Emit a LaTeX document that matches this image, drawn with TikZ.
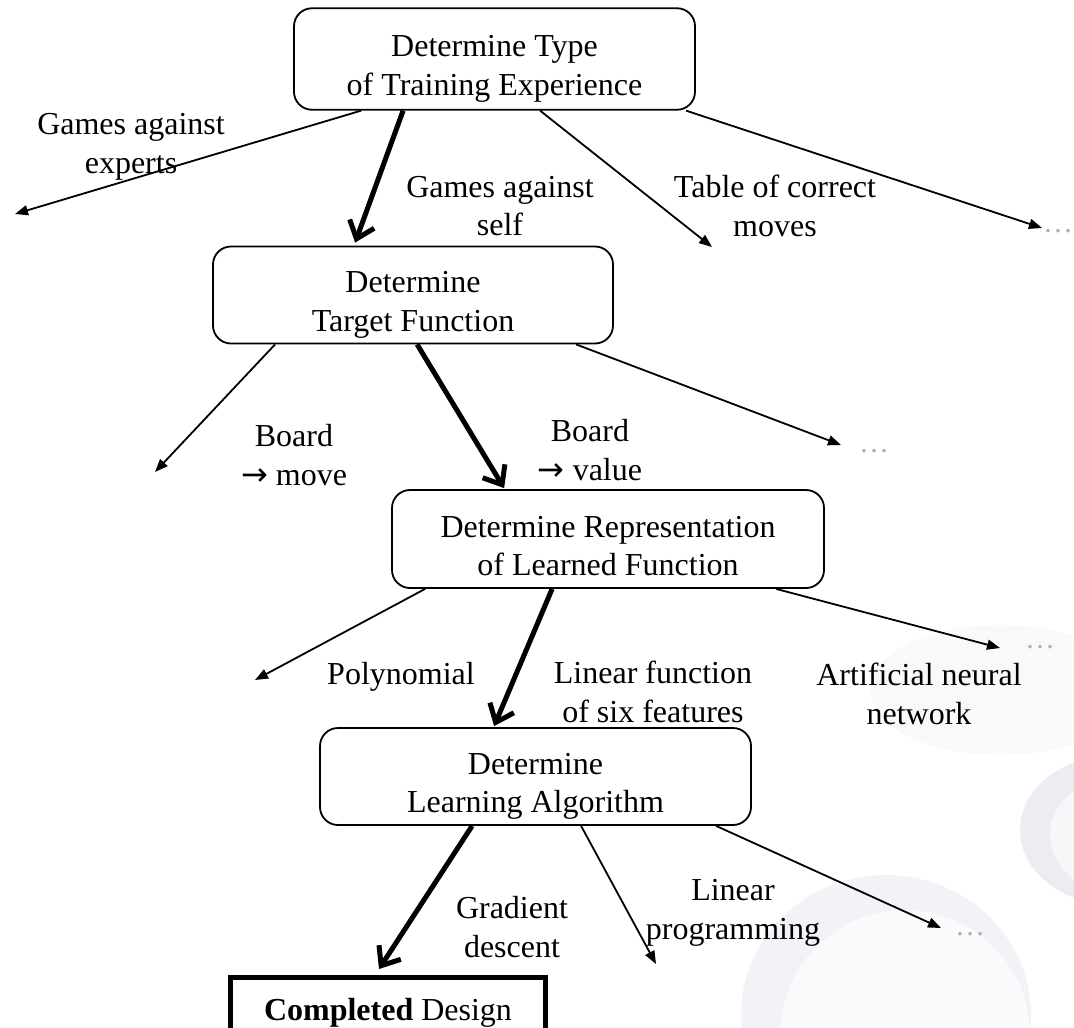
\documentclass[tikz,border=0pt]{standalone}
\usepackage{fontspec}
\setmainfont{Liberation Serif}
\newfontfamily\symfont{DejaVu Sans}
\usetikzlibrary{arrows.meta}
\definecolor{blobA}{RGB}{242,242,247}
\definecolor{blobB}{RGB}{250,250,252}
\definecolor{blobC}{RGB}{236,236,243}
\definecolor{blobD}{RGB}{247,247,250}
\definecolor{blobE}{RGB}{249,249,251}
\definecolor{dotgray}{RGB}{175,175,175}
\newcommand{\rarr}{{\symfont\fontsize{32}{32}\selectfont →}}
\begin{document}
\begin{tikzpicture}[x=1pt,y=-1pt,
  box/.style={draw,line width=1.8pt,rounded corners=18pt,inner sep=0pt},
  lbl/.style={align=center,font=\fontsize{32}{38.5}\selectfont,inner sep=0pt},
  tarrow/.style={line width=1.8pt,-{Triangle[length=13pt,width=10pt]}},
  barrow/.style={line width=5pt,-{Straight Barb[length=16pt,width=26pt]}},
  dotsn/.style={font=\fontsize{30}{30}\selectfont,text=dotgray,inner sep=0pt},
]
\useasboundingbox (0,0) rectangle (1074,1028);
\fill[white] (0,0) rectangle (1074,1028);
% faint slide background
\begin{scope}
\clip (0,0) rectangle (1074,1028);
\fill[blobE] (1000,690) ellipse (130 and 65);
\fill[blobA] (886,1015) ellipse (145 and 140);
\fill[blobB] (905,1035) ellipse (125 and 125);
\fill[blobC] (1115,830) ellipse (95 and 75);
\fill[blobD] (1130,835) ellipse (80 and 62);
\end{scope}

% boxes
\node[box,minimum width=401pt,minimum height=101.5pt] (b1) at (494.5,59) {};
\node[box,minimum width=400pt,minimum height=97pt] (b2) at (413,295) {};
\node[box,minimum width=432pt,minimum height=98pt] (b3) at (608,539) {};
\node[box,minimum width=431pt,minimum height=97pt] (b4) at (535.5,776.5) {};
\node[draw,line width=5pt,minimum width=315pt,minimum height=70pt,inner sep=0pt,
  font=\fontsize{32}{38.5}\selectfont] (b5) at (388,1012.5) {\textbf{Completed} Design};

% box texts
\node[lbl] (t1) at ([yshift=-10pt]b1.center) {Determine Type\\of Training Experience};
\node[lbl] (t2) at ([yshift=-10pt]b2.center) {Determine\\Target Function};
\node[lbl] (t3) at ([yshift=-7pt]b3.center) {Determine Representation\\of Learned Function};
\node[lbl] (t4) at ([yshift=-10pt]b4.center) {Determine\\Learning Algorithm};

% labels
\node[lbl] (l1) at (131,147) {Games against\\experts};
\node[lbl] (l2) at (500,206) {Games against\\self};
\node[lbl] (l3) at (775,206) {Table of correct\\moves};
\node[lbl] (l4) at (294,455) {Board\\\rarr\ move};
\node[lbl] (l5) at (590,450) {Board\\\rarr\ value};
\node[lbl] (l6) at (401,677) {Polynomial};
\node[lbl] (l7) at (653,692) {Linear function\\of six features};
\node[lbl] (l8) at (919,694) {Artificial neural\\network};
\node[lbl] (l9) at (512,927) {Gradient\\descent};
\node[lbl] (l10) at (733,913) {Linear\\programming};

% ellipses
\node[dotsn] (d1) at (1058,231) {\dots};
\node[dotsn] (d2) at (874,451) {\dots};
\node[dotsn] (d3) at (1040,647) {\dots};
\node[dotsn] (d4) at (970,934) {\dots};

% free arrow ends
\coordinate (e11) at (15,214);
\coordinate (e13) at (712,247);
\coordinate (e14) at (1042,228);
\coordinate (e21) at (155,472);
\coordinate (e23) at (841,445);
\coordinate (e31) at (255,680);
\coordinate (e33) at (1000,648);
\coordinate (e42) at (656,964);
\coordinate (e43) at (941,928);

% connectors from box 1
\draw[tarrow] ([xshift=68pt]b1.south west) -- (e11);
\draw[barrow] ([xshift=110pt]b1.south west) -- ([xshift=143pt,yshift=3pt]b2.north west);
\draw[tarrow] ([xshift=247pt]b1.south west) -- (e13);
\draw[tarrow] ([xshift=393pt]b1.south west) -- (e14);
% from box 2
\draw[tarrow] ([xshift=63pt]b2.south west) -- (e21);
\draw[barrow] ([xshift=205pt]b2.south west) -- ([xshift=113pt,yshift=1pt]b3.north west);
\draw[tarrow] ([xshift=364pt]b2.south west) -- (e23);
% from box 3
\draw[tarrow] ([xshift=34pt]b3.south west) -- (e31);
\draw[barrow] ([xshift=161pt]b3.south west) -- ([xshift=175pt,yshift=1pt]b4.north west);
\draw[tarrow] ([xshift=385pt]b3.south west) -- (e33);
% from box 4
\draw[barrow] ([xshift=153pt]b4.south west) -- ([xshift=151pt,yshift=6pt]b5.north west);
\draw[tarrow] ([xshift=262pt]b4.south west) -- (e42);
\draw[tarrow] ([xshift=397pt]b4.south west) -- (e43);
\end{tikzpicture}
\end{document}
